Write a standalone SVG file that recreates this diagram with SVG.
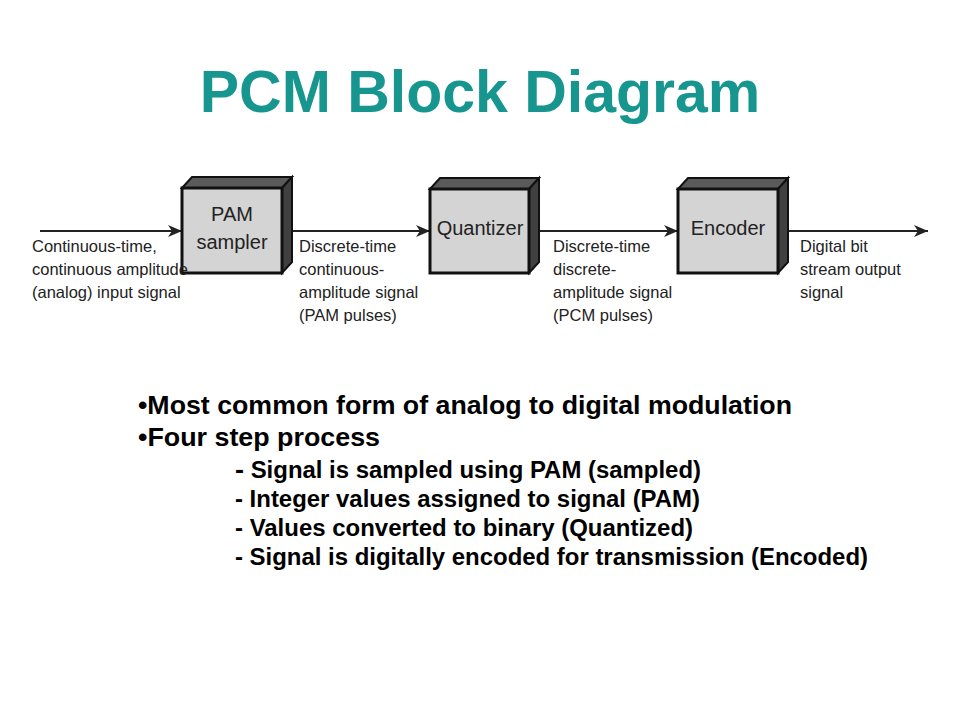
<svg xmlns="http://www.w3.org/2000/svg" width="960" height="720" viewBox="0 0 960 720">
<defs>
<style>
.title{font-family:"Liberation Sans",Arial,sans-serif;font-weight:bold;font-size:59px;fill:#17958f}
.lbl{font-family:"Liberation Sans",Arial,sans-serif;font-size:16.5px;fill:#222}
.box{font-family:"Liberation Sans",Arial,sans-serif;font-size:20px;fill:#222}
.b1{font-family:"Liberation Sans",Arial,sans-serif;font-weight:bold;font-size:26px;fill:#000}
.b2{font-family:"Liberation Sans",Arial,sans-serif;font-weight:bold;font-size:23px;fill:#000}
.front{fill:#d4d4d4;stroke:#111;stroke-width:3}
.top{fill:#5a5a5a;stroke:#111;stroke-width:2}
.side{fill:#404040;stroke:#111;stroke-width:2}
.conn{stroke:#222;stroke-width:2;fill:none}
</style>
<marker id="arr" viewBox="0 0 14 12" refX="14" refY="6" markerWidth="14" markerHeight="12" orient="auto" markerUnits="userSpaceOnUse">
<path d="M0,0 L14,6 L0,12 L4,6 Z" fill="#222"/>
</marker>
</defs>
<rect width="960" height="720" fill="#fff"/>
<text class="title" x="480" y="112" text-anchor="middle">PCM Block Diagram</text>
<g id="connectors">
<line class="conn" x1="40" y1="231" x2="182" y2="231" marker-end="url(#arr)"/>
<line class="conn" x1="292" y1="231" x2="430" y2="231" marker-end="url(#arr)"/>
<line class="conn" x1="539" y1="231" x2="678" y2="231" marker-end="url(#arr)"/>
<line class="conn" x1="788" y1="231" x2="928" y2="231" marker-end="url(#arr)"/>
</g>
<g id="pam">
<polygon class="top" points="182,188 192,177 292,177 282,188"/>
<polygon class="side" points="282,188 292,177 292,262 282,273"/>
<rect class="front" x="182" y="188" width="100" height="85"/>
<text class="box" x="232" y="221" text-anchor="middle">PAM</text>
<text class="box" x="232" y="249" text-anchor="middle">sampler</text>
</g>
<g id="quantizer">
<polygon class="top" points="430,189 440,178 539,178 529,189"/>
<polygon class="side" points="529,189 539,178 539,262 529,273"/>
<rect class="front" x="430" y="189" width="99" height="84"/>
<text class="box" x="480" y="235" text-anchor="middle">Quantizer</text>
</g>
<g id="encoder">
<polygon class="top" points="678,189 688,178 788,178 778,189"/>
<polygon class="side" points="778,189 788,178 788,262 778,273"/>
<rect class="front" x="678" y="189" width="100" height="84"/>
<text class="box" x="728" y="235" text-anchor="middle">Encoder</text>
</g>
<g id="labels">
<text class="lbl" x="32" y="252">Continuous-time,</text>
<text class="lbl" x="32" y="275">continuous amplitude</text>
<text class="lbl" x="32" y="298">(analog) input signal</text>
<text class="lbl" x="299" y="252">Discrete-time</text>
<text class="lbl" x="299" y="275">continuous-</text>
<text class="lbl" x="299" y="298">amplitude signal</text>
<text class="lbl" x="299" y="321">(PAM pulses)</text>
<text class="lbl" x="553" y="252">Discrete-time</text>
<text class="lbl" x="553" y="275">discrete-</text>
<text class="lbl" x="553" y="298">amplitude signal</text>
<text class="lbl" x="553" y="321">(PCM pulses)</text>
<text class="lbl" x="800" y="252">Digital bit</text>
<text class="lbl" x="800" y="275">stream output</text>
<text class="lbl" x="800" y="298">signal</text>
</g>
<g id="bullets">
<text class="b1" x="138" y="414" textLength="654" lengthAdjust="spacingAndGlyphs">•Most common form of analog to digital modulation</text>
<text class="b1" x="138" y="446" textLength="242" lengthAdjust="spacingAndGlyphs">•Four step process</text>
<text class="b2" x="235" y="478" textLength="466" lengthAdjust="spacingAndGlyphs"><tspan font-size="26">-</tspan> Signal is sampled using PAM (sampled)</text>
<text class="b2" x="235" y="507" textLength="465" lengthAdjust="spacingAndGlyphs">- Integer values assigned to signal (PAM)</text>
<text class="b2" x="235" y="536" textLength="458" lengthAdjust="spacingAndGlyphs">- Values converted to binary (Quantized)</text>
<text class="b2" x="235" y="565" textLength="633" lengthAdjust="spacingAndGlyphs">- Signal is digitally encoded for transmission (Encoded)</text>
</g>
</svg>
